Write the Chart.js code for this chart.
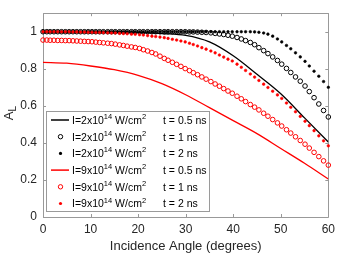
<!DOCTYPE html>
<html><head><meta charset="utf-8">
<script src="https://cdn.jsdelivr.net/npm/chart.js@4.4.1/dist/chart.umd.min.js"></script>
<style>html,body{margin:0;padding:0;background:#fff}#wrap{width:340px;height:258px;position:relative}</style>
</head><body><div id="wrap"><canvas id="c" width="340" height="258"></canvas></div>
<script>
// ---- data ----
const angles = [0,0.8,1.5,2.3,3.1,3.9,4.7,5.5,6.3,7.1,
  7.9,8.7,9.5,10.3,11.1,11.9,12.7,13.6,14.4,15.2,
  16.1,16.9,17.7,18.6,19.4,20.3,21.1,22.0,22.9,23.7,
  24.6,25.5,26.3,27.2,28.1,29.0,29.9,30.8,31.6,32.5,
  33.4,34.3,35.3,36.2,37.1,38.0,38.9,39.8,40.8,41.7,
  42.6,43.6,44.5,45.4,46.4,47.3,48.3,49.3,50.2,51.2,
  52.1,53.1,54.1,55.1,56.0,57.0,58.0,59.0,60.0];
const lineAngles = [0,5,10,15,20,25,30,35,40,45,50,55,60];
const lineI2t05 = [1,1,1,0.999,0.997,0.99,0.98,0.945,0.87,0.77,0.665,0.535,0.405];
const openI2t1 = [1,1,1,1,1,1,1,1,1,1,
  1,1,1,1,1,1,1,1,1,1,
  1,1,1,1,1,1,1,1,1,1,
  1,1,1,1,1,1,1,0.999,0.999,0.998,
  0.997,0.996,0.994,0.991,0.988,0.985,0.981,0.976,0.969,0.961,
  0.952,0.942,0.930,0.914,0.898,0.882,0.864,0.845,0.825,0.802,
  0.780,0.756,0.733,0.707,0.677,0.644,0.610,0.575,0.540];
const dotI2t2 = [1,1,1,1,1,1,1,1,1,1,
  1,1,1,1,1,1,1,1,1,1,
  1,1,1,1,1,1,1,1,1,1,
  1,1,1,1,1,1,1,1,1,1,
  1,1,1,1,1,1,1,1,1,1,
  1,1,0.999,0.997,0.993,0.987,0.976,0.961,0.945,0.926,
  0.908,0.886,0.864,0.840,0.815,0.787,0.760,0.731,0.700];
const lineI9t05 = [0.835,0.83,0.815,0.795,0.765,0.72,0.66,0.59,0.52,0.45,0.37,0.29,0.205];
const openI9t1 = [0.955,0.955,0.954,0.954,0.953,0.953,0.952,0.952,0.951,0.950,
  0.949,0.948,0.947,0.946,0.944,0.942,0.940,0.938,0.936,0.933,
  0.929,0.926,0.922,0.918,0.915,0.910,0.903,0.896,0.888,0.880,
  0.868,0.856,0.846,0.835,0.824,0.813,0.801,0.790,0.779,0.768,
  0.756,0.744,0.731,0.718,0.706,0.693,0.680,0.668,0.652,0.638,
  0.623,0.607,0.593,0.578,0.560,0.544,0.526,0.508,0.491,0.471,
  0.453,0.433,0.413,0.393,0.372,0.349,0.326,0.303,0.280];
const dotI9t2 = [1,1,1,1,1,1,1,1,0.999,0.999,
  0.998,0.998,0.997,0.997,0.996,0.996,0.995,0.994,0.993,0.993,
  0.991,0.990,0.989,0.987,0.986,0.984,0.982,0.979,0.976,0.974,
  0.971,0.968,0.964,0.959,0.955,0.950,0.945,0.938,0.931,0.923,
  0.914,0.906,0.896,0.886,0.874,0.863,0.852,0.842,0.825,0.808,
  0.791,0.772,0.755,0.737,0.717,0.699,0.679,0.659,0.640,0.615,
  0.592,0.568,0.543,0.517,0.493,0.466,0.438,0.411,0.384];
const xTicks = [0,10,20,30,40,50,60];
const yTicks = [0,0.2,0.4,0.6,0.8,1];
const yTickLabels = ['0','0.2','0.4','0.6','0.8','1'];
const legendIntensity = ['2','2','2','9','9','9'];
const legendTime = ['0.5','1','2','0.5','1','2'];
const xTitle = 'Incidence Angle (degrees)';
const yTitleMain = 'A';
const yTitleSub = 'L';

const FONT = '"Liberation Sans", Arial, Helvetica, sans-serif';
const toXY = (xs, ys) => xs.map((x, i) => ({x: x, y: ys[i]}));

function lineSet(xs, ys, color, order) {
  return {data: toXY(xs, ys), showLine: true, borderColor: color, backgroundColor: color,
    borderWidth: 1.3, pointRadius: 0, cubicInterpolationMode: 'monotone', order: order, kind: 'line'};
}
function openSet(xs, ys, color, order) {
  return {data: toXY(xs, ys), showLine: false, borderColor: color, backgroundColor: 'rgba(0,0,0,0)',
    pointBorderColor: color, pointBackgroundColor: 'rgba(0,0,0,0)', pointStyle: 'circle',
    pointRadius: 2.3, pointBorderWidth: 1, clip: false, order: order, kind: 'open'};
}
function dotSet(xs, ys, color, order) {
  return {data: toXY(xs, ys), showLine: false, borderColor: color, backgroundColor: color,
    pointBorderColor: color, pointBackgroundColor: color, pointStyle: 'circle',
    pointRadius: 1.3, pointBorderWidth: 0.6, clip: false, order: order, kind: 'dot'};
}

const datasets = [
  lineSet(lineAngles, lineI2t05, '#000000', 6),
  openSet(angles, openI2t1, '#000000', 5),
  dotSet(angles, dotI2t2, '#000000', 4),
  lineSet(lineAngles, lineI9t05, '#ff0000', 3),
  openSet(angles, openI9t1, '#ff0000', 2),
  dotSet(angles, dotI9t2, '#ff0000', 1)
];

const framePlugin = {
  id: 'frame',
  beforeDatasetsDraw(chart) {
    const {ctx, chartArea: a, scales} = chart;
    ctx.save();
    ctx.strokeStyle = '#999999';
    ctx.lineWidth = 1;
    ctx.beginPath();
    ctx.rect(Math.round(a.left) + 0.5, Math.round(a.top) + 0.5, Math.round(a.right - a.left), Math.round(a.bottom - a.top));
    ctx.stroke();
    ctx.beginPath();
    const tl = 3;
    xTicks.forEach(v => {
      const px = Math.round(scales.x.getPixelForValue(v)) + 0.5;
      ctx.moveTo(px, a.bottom); ctx.lineTo(px, a.bottom - tl);
      ctx.moveTo(px, a.top); ctx.lineTo(px, a.top + tl);
    });
    yTicks.forEach(v => {
      const py = Math.round(scales.y.getPixelForValue(v)) + 0.5;
      ctx.moveTo(a.left, py); ctx.lineTo(a.left + tl, py);
      ctx.moveTo(a.right, py); ctx.lineTo(a.right - tl, py);
    });
    ctx.stroke();
    // y title with subscript
    ctx.fillStyle = '#262626';
    ctx.translate(9.5, (a.top + a.bottom) / 2 - 2);
    ctx.rotate(-Math.PI / 2);
    ctx.font = '13px ' + FONT;
    const wA = ctx.measureText(yTitleMain).width;
    ctx.font = '10px ' + FONT;
    const wL = ctx.measureText(yTitleSub).width;
    const start = -(wA + wL) / 2;
    ctx.textBaseline = 'middle';
    ctx.textAlign = 'left';
    ctx.font = '13px ' + FONT;
    ctx.fillText(yTitleMain, start, 0);
    ctx.font = '10px ' + FONT;
    ctx.fillText(yTitleSub, start + wA, 4);
    ctx.restore();
  }
};

const legendPlugin = {
  id: 'legendBox',
  afterDatasetsDraw(chart) {
    const ctx = chart.ctx;
    const x0 = 46.5, y0 = 111.5, rowH = 16.7, firstRow = 120;
    const textX = 72, tX = 163;
    const big = '10.5px ' + FONT, small = '7.5px ' + FONT;
    ctx.save();
    ctx.font = big;
    let maxEnd = 0;
    legendTime.forEach(t => { maxEnd = Math.max(maxEnd, tX + ctx.measureText('t = ' + t + ' ns').width); });
    const x1 = Math.round(maxEnd + 3) + 0.5, y1 = 211.5;
    ctx.fillStyle = '#ffffff';
    ctx.fillRect(x0, y0, x1 - x0, y1 - y0);
    ctx.strokeStyle = '#9a9a9a';
    ctx.lineWidth = 1;
    ctx.strokeRect(x0, y0, x1 - x0, y1 - y0);
    datasets.forEach((ds, i) => {
      const cy = firstRow + i * rowH;
      const color = ds.borderColor;
      if (ds.kind === 'line') {
        ctx.strokeStyle = color; ctx.lineWidth = 1.5;
        ctx.beginPath(); ctx.moveTo(51, cy); ctx.lineTo(69, cy); ctx.stroke();
      } else if (ds.kind === 'open') {
        ctx.strokeStyle = color; ctx.lineWidth = 1;
        ctx.beginPath(); ctx.arc(60.5, cy, 2.2, 0, Math.PI * 2); ctx.stroke();
      } else {
        ctx.fillStyle = color;
        ctx.beginPath(); ctx.arc(60.5, cy, 1.6, 0, Math.PI * 2); ctx.fill();
      }
      ctx.fillStyle = '#000000';
      ctx.textBaseline = 'middle';
      ctx.textAlign = 'left';
      let x = textX;
      ctx.font = big; const s1 = 'I=' + legendIntensity[i] + 'x10';
      ctx.fillText(s1, x, cy + 1); x += ctx.measureText(s1).width;
      ctx.font = small; ctx.fillText('14', x, cy - 3); x += ctx.measureText('14').width;
      ctx.font = big; const s2 = ' W/cm';
      ctx.fillText(s2, x, cy + 1); x += ctx.measureText(s2).width;
      ctx.font = small; ctx.fillText('2', x, cy - 3);
      ctx.font = big; ctx.fillText('t = ' + legendTime[i] + ' ns', tX, cy + 1);
    });
    ctx.restore();
  }
};

new Chart(document.getElementById('c'), {
  type: 'scatter',
  data: {datasets: datasets},
  options: {
    responsive: false, animation: false, devicePixelRatio: 1, events: [],
    layout: {padding: {top: 13, right: 11, left: 0, bottom: 0}},
    plugins: {legend: {display: false}, tooltip: {enabled: false}},
    scales: {
      x: {type: 'linear', min: 0, max: 60,
        afterBuildTicks: s => { s.ticks = xTicks.map(v => ({value: v})); },
        afterFit: s => { s.height = 41; },
        grid: {display: false, drawTicks: false}, border: {display: false},
        ticks: {color: '#262626', font: {family: FONT, size: 12}, padding: 5, maxRotation: 0, autoSkip: false},
        title: {display: true, text: xTitle, color: '#262626', font: {family: FONT, size: 13}, padding: {top: 0, bottom: 4}}
      },
      y: {type: 'linear', min: 0, max: 1.1,
        afterBuildTicks: s => { s.ticks = yTicks.map(v => ({value: v})); },
        afterFit: s => { s.width = 43; },
        grid: {display: false, drawTicks: false}, border: {display: false},
        ticks: {color: '#262626', font: {family: FONT, size: 12}, padding: 6,
          callback: (v) => { const k = yTicks.indexOf(v); return k >= 0 ? yTickLabels[k] : ''; }}
      }
    }
  },
  plugins: [framePlugin, legendPlugin]
});
</script></body></html>
